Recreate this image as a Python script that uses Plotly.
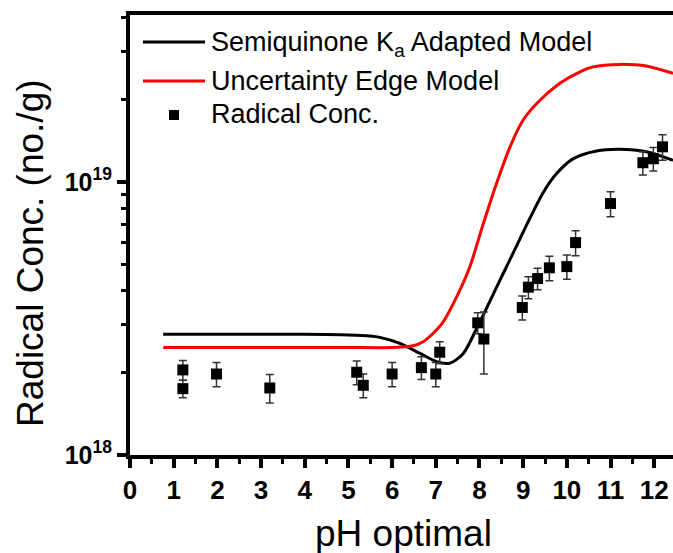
import plotly.graph_objects as go

# ---- data ----
ph_points = [1.21, 1.21, 1.98, 3.2, 5.19, 5.34, 6.0, 6.67, 7.0, 7.09, 7.96, 8.1,
             8.98, 9.12, 9.33, 9.6, 10.0, 10.2, 11.0, 11.74, 11.98, 12.19]
radical_conc = [2.05e18, 1.75e18, 1.98e18, 1.76e18, 2.01e18, 1.80e18, 1.98e18, 2.09e18,
                1.98e18, 2.38e18, 3.05e18, 2.66e18, 3.47e18, 4.12e18, 4.43e18, 4.85e18,
                4.90e18, 6.0e18, 8.34e18, 1.177e19, 1.217e19, 1.346e19]
radical_err = [0.17e18, 0.13e18, 0.20e18, 0.21e18, 0.20e18, 0.18e18, 0.20e18, 0.20e18,
               0.20e18, 0.22e18, 0.27e18, 0.68e18, 0.35e18, 0.38e18, 0.40e18, 0.50e18,
               0.50e18, 0.63e18, 0.88e18, 1.15e18, 1.20e18, 1.45e18]

ph_semi = [0.76, 2, 3, 4, 5, 5.5, 5.72, 6.18, 6.64, 7.02, 7.32, 7.63, 7.93, 8.24, 8.54,
           8.85, 9.15, 9.46, 9.76, 10.14, 10.68, 11.21, 11.82, 12.43]
semi_model = [2.767e18, 2.767e18, 2.767e18, 2.767e18, 2.754e18, 2.729e18, 2.698e18,
              2.564e18, 2.355e18, 2.198e18, 2.168e18, 2.355e18, 2.897e18, 3.664e18,
              4.613e18, 5.834e18, 7.345e18, 9.162e18, 1.072e19, 1.216e19, 1.300e19,
              1.318e19, 1.291e19, 1.202e19]

ph_edge = [0.76, 2, 3, 4, 5, 6.0, 6.48, 6.71, 6.94, 7.17, 7.48, 7.78, 8.09, 8.39, 8.70,
           9.0, 9.31, 9.84, 10.3, 10.6, 11.21, 11.82, 12.43]
edge_model = [2.477e18, 2.477e18, 2.477e18, 2.477e18, 2.477e18, 2.477e18, 2.512e18,
              2.600e18, 2.793e18, 3.076e18, 3.802e18, 4.898e18, 7.063e18, 9.886e18,
              1.346e19, 1.687e19, 1.941e19, 2.301e19, 2.535e19, 2.642e19, 2.698e19,
              2.661e19, 2.500e19]

x_ticks = list(range(0, 13))
y_tickvals = [1e18, 1e19]
y_ticktext = ["<b>10<sup>18</sup></b>", "<b>10<sup>19</sup></b>"]
y_minor = [2e18, 3e18, 4e18, 5e18, 6e18, 7e18, 8e18, 9e18, 2e19, 3e19, 4e19]

legend_labels = ["Semiquinone K<sub>a</sub> Adapted Model", "Uncertainty Edge Model", "Radical Conc."]

FONT = "Arial, Liberation Sans, sans-serif"

fig = go.Figure()
fig.add_trace(go.Scatter(x=ph_semi, y=semi_model, mode="lines",
                         line=dict(color="#000000", width=3, shape="spline", smoothing=0.8),
                         name=legend_labels[0], showlegend=False))
fig.add_trace(go.Scatter(x=ph_edge, y=edge_model, mode="lines",
                         line=dict(color="#ff0000", width=3, shape="spline", smoothing=0.8),
                         name=legend_labels[1], showlegend=False))
fig.add_trace(go.Scatter(x=ph_points, y=radical_conc, mode="markers",
                         marker=dict(symbol="square", size=11, color="#000000"),
                         error_y=dict(type="data", array=radical_err, visible=True,
                                      color="#333333", thickness=1.5, width=4),
                         name=legend_labels[2], showlegend=False))

# Plot-area geometry (window pixels); the page body margin is removed below.
FW, FH = 673, 553
L, T, W, H = 130, 15, 543, 440

def px(xw):
    return (xw - L) / W

def py(yw):
    return (T + H - yw) / H

shapes = [
    dict(type="line", xref="paper", yref="paper", x0=px(143), x1=px(205), y0=py(42), y1=py(42),
         line=dict(color="#000000", width=3)),
    dict(type="line", xref="paper", yref="paper", x0=px(143), x1=px(205), y0=py(81), y1=py(81),
         line=dict(color="#ff0000", width=3)),
    dict(type="rect", xref="paper", yref="paper", x0=px(169), x1=px(179), y0=py(110), y1=py(120),
         fillcolor="#000000", line=dict(width=0)),
]
annotations = [
    dict(text=legend_labels[0], xref="paper", yref="paper", x=px(209), y=py(44),
         xanchor="left", yanchor="middle", showarrow=False, font=dict(family=FONT, size=27, color="#000")),
    dict(text=legend_labels[1], xref="paper", yref="paper", x=px(209), y=py(81),
         xanchor="left", yanchor="middle", showarrow=False, font=dict(family=FONT, size=27, color="#000")),
    dict(text=legend_labels[2], xref="paper", yref="paper", x=px(209), y=py(114),
         xanchor="left", yanchor="middle", showarrow=False, font=dict(family=FONT, size=27, color="#000")),
    dict(text="Radical Conc. (no./g)", xref="paper", yref="paper", x=px(30), y=py(253),
         xanchor="center", yanchor="middle", textangle=-90, showarrow=False,
         font=dict(family=FONT, size=37, color="#000")),
    dict(text="pH optimal", xref="paper", yref="paper", x=px(403), y=py(533),
         xanchor="center", yanchor="middle", showarrow=False,
         font=dict(family=FONT, size=37, color="#000")),
]

fig.update_layout(
    width=FW, height=FH,
    margin=dict(l=L, r=FW - L - W, t=T, b=FH - T - H, autoexpand=False),
    paper_bgcolor="white", plot_bgcolor="white",
    font=dict(family=FONT, color="#000"),
    shapes=shapes, annotations=annotations,
    hovermode=False,
    xaxis=dict(range=[0, 12.43], tickmode="array", tickvals=x_ticks,
               ticks="outside", ticklen=9, tickwidth=4, tickcolor="#000",
               showline=True, linewidth=4, linecolor="#000", mirror=True,
               showgrid=False, zeroline=False,
               tickfont=dict(family=FONT, size=26, weight="bold", color="#000"),
               minor=dict(dtick=0.5, tick0=0, ticks="outside", ticklen=5, tickwidth=3,
                          tickcolor="#000", showgrid=False)),
    yaxis=dict(type="log", range=[18, 19.612], tickmode="array", tickvals=y_tickvals,
               ticktext=y_ticktext, ticks="outside", ticklen=9, tickwidth=4, tickcolor="#000",
               showline=True, linewidth=4, linecolor="#000", mirror=False,
               showgrid=False, zeroline=False,
               tickfont=dict(family=FONT, size=25, weight="bold", color="#000"),
               minor=dict(tickmode="array", tickvals=y_minor, ticks="outside", ticklen=5,
                          tickwidth=3, tickcolor="#000", showgrid=False)),
)

fig.write_html("out.html",
               config={"displayModeBar": False, "staticPlot": True},
               post_script="document.body.style.margin='0px';document.body.style.overflow='hidden';")
